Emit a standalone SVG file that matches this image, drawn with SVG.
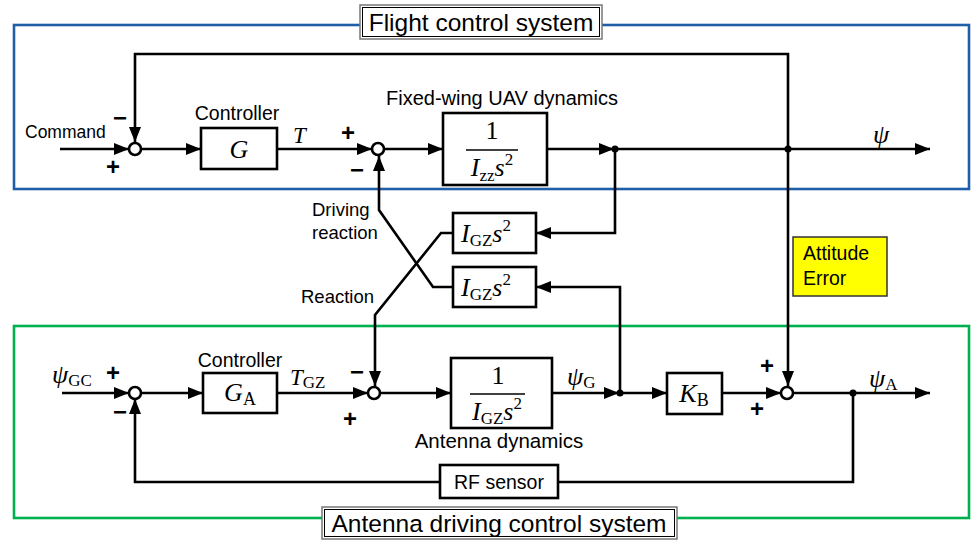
<svg xmlns="http://www.w3.org/2000/svg" width="971" height="540" viewBox="0 0 971 540">
<style>
.ln{fill:none;stroke:#000;stroke-width:2.6}
.arr{marker-end:url(#ah)}
.blk{fill:#fff;stroke:#000;stroke-width:2.6}
.sum{fill:#fff;stroke:#000;stroke-width:2.6}
.dot{fill:#000}
.sans{font-family:"Liberation Sans",Arial,sans-serif;fill:#000}
.lbl{font-size:18.5px}
.ttl{font-size:24.5px}
.math{font-family:"Liberation Serif","Times New Roman",serif;fill:#000}
.it{font-style:italic}
.sgn{font-family:"Liberation Sans",Arial,sans-serif;font-size:24px;font-weight:bold;text-anchor:middle}
</style>
<defs>
<marker id="ah" markerUnits="userSpaceOnUse" markerWidth="15" markerHeight="12" refX="15" refY="6" orient="auto">
<path d="M0,0 L15,6 L0,12 z" fill="#000"/>
</marker>
</defs>

<g id="frames">
<rect x="14" y="25" width="955" height="164" fill="none" stroke="#1f5fa8" stroke-width="2.6"/>
<rect x="14" y="326" width="955" height="192" fill="none" stroke="#00b04f" stroke-width="2.6"/>
</g>

<g id="title-flight">
<rect x="360" y="5" width="242" height="34" fill="#fff" stroke="#777" stroke-width="1.5"/>
<rect x="362.5" y="7.5" width="237" height="29" fill="#fff" stroke="#000" stroke-width="1"/>
<text class="sans ttl" x="481" y="31" text-anchor="middle">Flight control system</text>
</g>

<g id="title-antenna">
<rect x="322" y="507" width="355" height="32" fill="#fff" stroke="#777" stroke-width="1.5"/>
<rect x="324.5" y="509.5" width="350" height="27" fill="#fff" stroke="#000" stroke-width="1"/>
<text class="sans ttl" x="499" y="532" text-anchor="middle">Antenna driving control system</text>
</g>

<g id="connectors">
<path class="ln arr" d="M60,149 H129"/>
<path class="ln arr" d="M788,149 V54 H135 V142"/>
<path class="ln arr" d="M788,149 V386"/>
<path class="ln arr" d="M141,149 H201"/>
<path class="ln arr" d="M277,149 H372"/>
<path class="ln arr" d="M384,149 H443"/>
<path class="ln arr" d="M547,149 H614"/>
<path class="ln arr" d="M615,149 H930"/>
<path class="ln arr" d="M615,149 V233 H536"/>
<path class="ln arr" d="M453,287 H433 L379,210 V156"/>
<path class="ln arr" d="M453,233 H441 L375,315 V386"/>
<path class="ln arr" d="M62,393 H129"/>
<path class="ln arr" d="M141,393 H203"/>
<path class="ln arr" d="M277,393 H368"/>
<path class="ln arr" d="M380,393 H451"/>
<path class="ln arr" d="M552,393 H619"/>
<path class="ln arr" d="M620,393 H667"/>
<path class="ln arr" d="M620,393 V287 H536"/>
<path class="ln arr" d="M722,393 H781"/>
<path class="ln arr" d="M793,393 H930"/>
<path class="ln" d="M853,393 V482 H558"/>
<path class="ln arr" d="M440,482 H135 V399"/>
<circle class="dot" cx="615" cy="149" r="3.5"/>
<circle class="dot" cx="788" cy="149" r="3.5"/>
<circle class="dot" cx="620" cy="393" r="3.5"/>
<circle class="dot" cx="853" cy="393" r="3.5"/>
</g>

<g id="sum1"><circle class="sum" cx="135" cy="149" r="6"/>
<text class="sgn" x="120" y="126">−</text><text class="sgn" x="113" y="175">+</text></g>
<g id="sum2"><circle class="sum" cx="378" cy="149" r="6"/>
<text class="sgn" x="348" y="141">+</text><text class="sgn" x="357" y="178">−</text></g>
<g id="sum4"><circle class="sum" cx="135" cy="393" r="6"/>
<text class="sgn" x="113" y="381">+</text><text class="sgn" x="120" y="420">−</text></g>
<g id="sum3"><circle class="sum" cx="374" cy="393" r="6"/>
<text class="sgn" x="357" y="380">−</text><text class="sgn" x="350" y="427">+</text></g>
<g id="sum5"><circle class="sum" cx="787" cy="393" r="6"/>
<text class="sgn" x="767" y="374">+</text><text class="sgn" x="757" y="417">+</text></g>

<g id="command-label"><text class="sans" font-size="17.5" x="25" y="138">Command</text></g>

<g id="controller-G">
<text class="sans" font-size="19.5" x="237" y="120" text-anchor="middle">Controller</text>
<rect class="blk" x="201" y="128" width="76" height="41"/>
<text class="math it" font-size="26" x="239" y="158" text-anchor="middle">G</text>
</g>
<g id="label-T"><text class="math it" font-size="23" x="293" y="143">T</text></g>

<g id="uav-dynamics">
<text class="sans" x="502" y="105" text-anchor="middle" font-size="20">Fixed-wing UAV dynamics</text>
<rect class="blk" x="443" y="113" width="104" height="72"/>
<text class="math" font-size="26" x="492" y="139" text-anchor="middle">1</text>
<line x1="466" y1="150" x2="518" y2="150" stroke="#000" stroke-width="1.6"/>
<text class="math" font-size="26" x="492" y="176" text-anchor="middle"><tspan class="it">I</tspan><tspan font-size="17" dy="5">zz</tspan><tspan class="it" dy="-5">s</tspan><tspan font-size="17" dy="-11">2</tspan></text>
</g>

<g id="psi-out"><text class="math it" font-size="26" x="873" y="143">ψ</text></g>

<g id="igz-reaction">
<rect class="blk" x="453" y="213" width="83" height="40"/>
<text class="math" font-size="26" x="461" y="242"><tspan class="it">I</tspan><tspan font-size="17" dy="4">GZ</tspan><tspan class="it" dy="-4">s</tspan><tspan font-size="17" dy="-11">2</tspan></text>
</g>
<g id="igz-driving">
<rect class="blk" x="453" y="267" width="83" height="40"/>
<text class="math" font-size="26" x="461" y="296"><tspan class="it">I</tspan><tspan font-size="17" dy="4">GZ</tspan><tspan class="it" dy="-4">s</tspan><tspan font-size="17" dy="-11">2</tspan></text>
</g>

<g id="reaction-labels">
<text class="sans lbl" x="312" y="216">Driving</text>
<text class="sans lbl" x="312" y="239">reaction</text>
<text class="sans lbl" x="301" y="303">Reaction</text>
</g>

<g id="attitude-error">
<rect x="793" y="237" width="94" height="59" fill="#ffff00" stroke="#333" stroke-width="1.5"/>
<text class="sans" font-size="19.5" x="803" y="260">Attitude</text>
<text class="sans" font-size="19.5" x="803" y="285">Error</text>
</g>

<g id="psi-gc"><text class="math" font-size="26" x="52" y="383"><tspan class="it">ψ</tspan><tspan font-size="17" dy="3">GC</tspan></text></g>

<g id="controller-GA">
<text class="sans" font-size="19.5" x="240" y="367" text-anchor="middle">Controller</text>
<rect class="blk" x="203" y="373" width="74" height="40"/>
<text class="math" font-size="26" x="240" y="401" text-anchor="middle"><tspan class="it">G</tspan><tspan font-size="18" dy="4">A</tspan></text>
</g>
<g id="label-TGZ"><text class="math" font-size="23" x="290" y="385"><tspan class="it">T</tspan><tspan font-size="17" dy="3">GZ</tspan></text></g>

<g id="antenna-dynamics">
<rect class="blk" x="451" y="358" width="101" height="70"/>
<text class="math" font-size="26" x="498" y="384" text-anchor="middle">1</text>
<line x1="470" y1="394" x2="525" y2="394" stroke="#000" stroke-width="1.6"/>
<text class="math" font-size="26" x="497" y="420" text-anchor="middle"><tspan class="it">I</tspan><tspan font-size="17" dy="4">GZ</tspan><tspan class="it" dy="-4">s</tspan><tspan font-size="17" dy="-11">2</tspan></text>
<text class="sans" x="499" y="448" text-anchor="middle" font-size="20.5">Antenna dynamics</text>
</g>

<g id="psi-g"><text class="math" font-size="26" x="567" y="385"><tspan class="it">ψ</tspan><tspan font-size="17" dy="3">G</tspan></text></g>

<g id="gain-KB">
<rect class="blk" x="667" y="373" width="55" height="41"/>
<text class="math" font-size="26" x="694" y="402" text-anchor="middle"><tspan class="it">K</tspan><tspan font-size="18" dy="4">B</tspan></text>
</g>

<g id="psi-a"><text class="math" font-size="26" x="869" y="387"><tspan class="it">ψ</tspan><tspan font-size="17" dy="3">A</tspan></text></g>

<g id="rf-sensor">
<rect class="blk" x="440" y="465" width="118" height="33"/>
<text class="sans" font-size="19.5" x="499" y="489" text-anchor="middle">RF sensor</text>
</g>
</svg>
